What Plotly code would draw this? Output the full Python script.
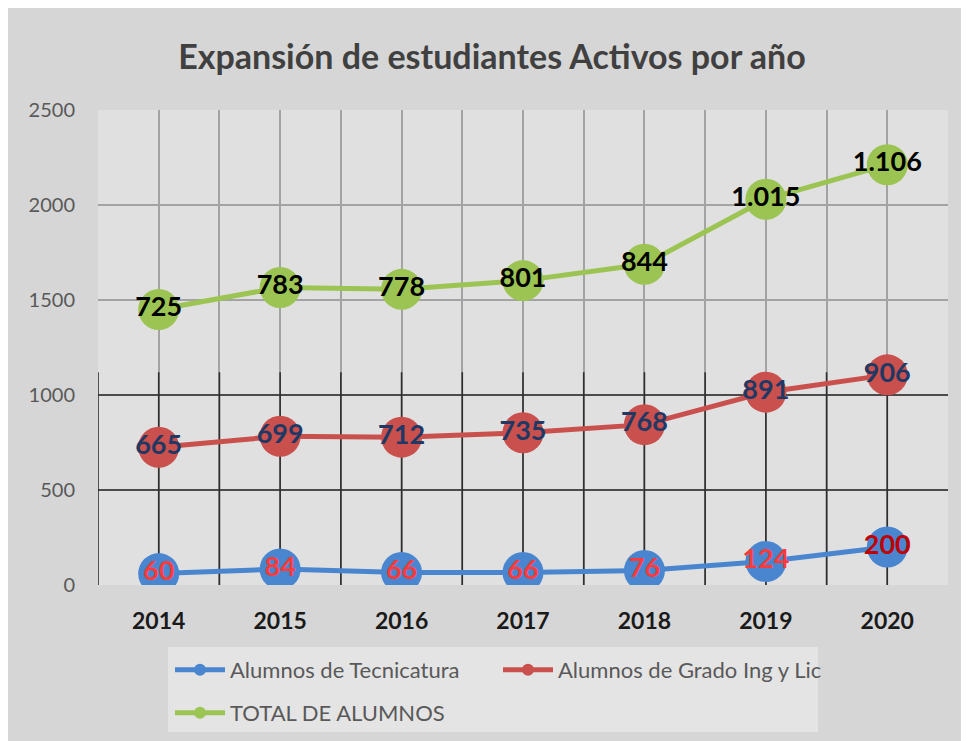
import plotly.graph_objects as go

# ---- data ----
years = [2014, 2015, 2016, 2017, 2018, 2019, 2020]
tecnicatura = [60, 84, 66, 66, 76, 124, 200]
grado = [665, 699, 712, 735, 768, 891, 906]
total = [725, 783, 778, 801, 844, 1015, 1106]
y_ticks = [0, 500, 1000, 1500, 2000, 2500]

names = ["Alumnos de Tecnicatura", "Alumnos de Grado Ing y Lic", "TOTAL DE ALUMNOS"]
line_colors = ["#4a86cf", "#c9504c", "#9cc453"]


def fmt(v):
    return f"{v:,}".replace(",", ".")


FONT = "Lato"
W, H = 969, 741
OFF = 8  # page body margin
# plot area in page pixels: left 98, right 948, top 110, bottom 585
ML = 98 - OFF
MT = 110 - OFF
MR = W - (948 - OFF)
MB = H - (585 - OFF)
PW, PH = W - ML - MR, H - MT - MB


def px_x(p):
    return (p - OFF - ML) / PW


def px_y(p):
    return (H - MB - (p - OFF)) / PH


fig = go.Figure()

label_colors = [
    ["#ff3a3a"] * (len(tecnicatura) - 1) + ["#c00000"],
    ["#1f3864"] * len(grado),
    ["#000000"] * len(total),
]
series = [tecnicatura, grado, total]
legends = ["legend", "legend", "legend2"]

for name, vals, col, lcols, lg in zip(names, series, line_colors, label_colors, legends):
    fig.add_trace(go.Scatter(
        x=years, y=vals, name=name,
        stackgroup="one", fill="none",
        mode="lines+markers+text",
        line=dict(color=col, width=5),
        marker=dict(color=col, size=41),
        text=[fmt(v) for v in vals],
        textposition="middle center",
        textfont=dict(family=FONT, size=27, color=lcols, weight="bold"),
        legend=lg,
        hoverinfo="skip",
    ))

x_bounds = [y - 0.5 for y in years] + [years[-1] + 0.5]
x_grid = sorted(set(x_bounds + years))

shapes = [
    # plot area
    dict(type="rect", xref="paper", yref="paper", layer="below",
         x0=0, x1=1, y0=0, y1=1, fillcolor="#e0e0e0", line=dict(width=0)),
    # legend box
    dict(type="rect", xref="paper", yref="paper", layer="below",
         x0=px_x(168), x1=px_x(818), y0=px_y(732), y1=px_y(647),
         fillcolor="#e4e4e4", line=dict(width=0)),
]
# darker grid in the lower part (as in the picture)
for xv in x_grid[:-1]:
    shapes.append(dict(type="line", xref="x", yref="y", layer="between",
                       x0=xv, x1=xv, y0=0, y1=1120,
                       line=dict(color="#2e2e2e", width=1.6)))
for yv in y_ticks[1:3]:
    shapes.append(dict(type="line", xref="x", yref="y", layer="between",
                       x0=x_bounds[0], x1=x_bounds[-1], y0=yv, y1=yv,
                       line=dict(color="#2e2e2e", width=1.6)))

fig.update_layout(
    width=W, height=H,
    margin=dict(l=ML, r=MR, t=MT, b=MB),
    paper_bgcolor="#d6d6d6",
    plot_bgcolor="rgba(0,0,0,0)",
    shapes=shapes,
    title=dict(text="Expansión de estudiantes Activos por año",
               x=(492 - OFF) / W, xanchor="center", y=1 - (57 - OFF) / H,
               yanchor="middle",
               font=dict(family=FONT, size=34, color="#404040", weight="bold")),
    xaxis=dict(range=[x_bounds[0], x_bounds[-1]], tickvals=years,
               ticktext=[str(y) for y in years], showgrid=False, zeroline=False,
               showline=False, ticks="", ticklabelstandoff=20,
               tickfont=dict(family=FONT, size=23, color="#1a1a1a", weight="bold"),
               minor=dict(tickvals=x_grid, showgrid=True, gridcolor="#a3a3a3",
                          gridwidth=1.6, ticks="")),
    yaxis=dict(range=[0, 2500], tickvals=y_ticks, showgrid=False, zeroline=False,
               showline=False, ticks="", ticklabelstandoff=22,
               tickfont=dict(family=FONT, size=20, color="#595959"),
               minor=dict(tickvals=y_ticks[1:], showgrid=True, gridcolor="#a3a3a3",
                          gridwidth=1.6, ticks="")),
    legend=dict(orientation="h", x=px_x(170), xanchor="left", y=px_y(670),
                yanchor="middle", bgcolor="rgba(0,0,0,0)",
                font=dict(family=FONT, size=22, color="#595959"),
                entrywidth=263, entrywidthmode="pixels", itemwidth=50,
                itemsizing="constant"),
    legend2=dict(orientation="h", x=px_x(170), xanchor="left", y=px_y(713),
                 yanchor="middle", bgcolor="rgba(0,0,0,0)",
                 font=dict(family=FONT, size=22, color="#595959"),
                 itemwidth=50, itemsizing="constant"),
    showlegend=True,
)

fig.write_html("out.html")
